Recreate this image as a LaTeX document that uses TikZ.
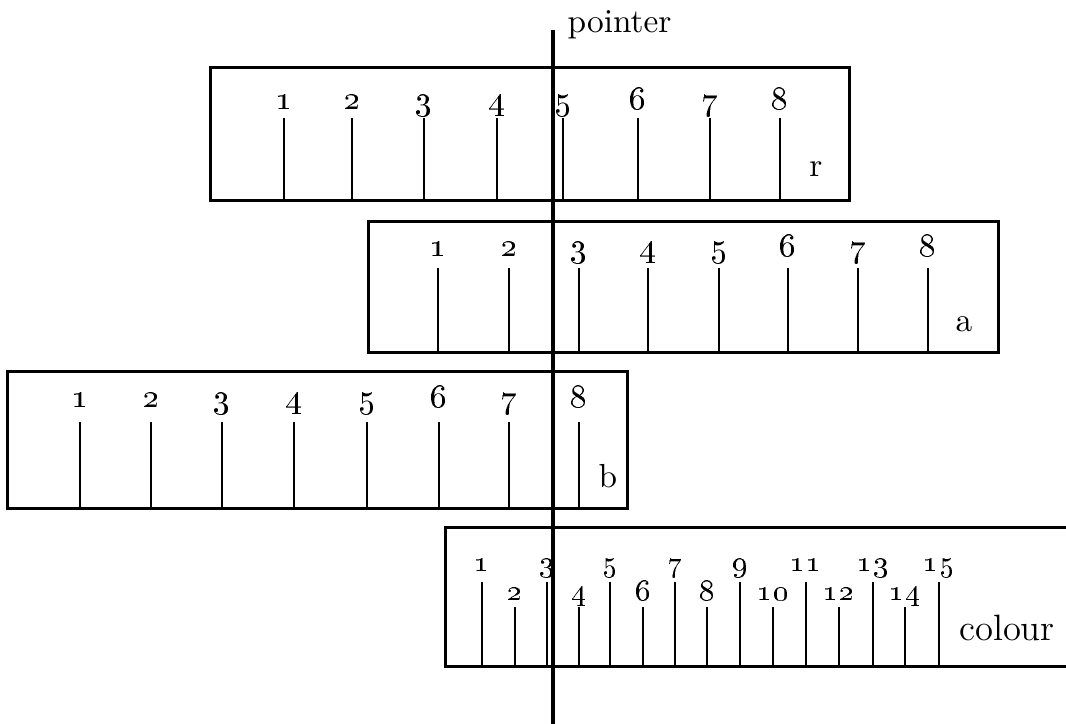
\documentclass[tikz,border=0pt]{standalone}
\usepackage{tikz}
\usetikzlibrary{positioning, calc}
\tikzset{%
  scale box/.style={draw, line width=0.9pt},
  tick/.style={line width=0.6pt},
  pointer line/.style={line width=1.1pt},
  num/.style={anchor=base, inner sep=0pt, font=\normalsize},
  small num/.style={num, font=\small},
  scale name/.style={anchor=base, inner sep=0pt}
}

\begin{document}
\begin{tikzpicture}[x=0.3pt, y=-0.3pt]
  \useasboundingbox (0,0) rectangle (1066,724);

  % scale r
  \coordinate (r nw) at (210,68);
  \coordinate (r se) at (849,201);
  \draw[scale box] (r nw) rectangle (r se);
  \foreach \n/\x in {1/284, 2/352, 3/424, 4/497, 5/563, 6/638, 7/710, 8/780} {
    \coordinate (r top \n) at (\x,118);
    \coordinate (r bot \n) at (\x,201);
    \draw[tick] (r top \n) -- (r bot \n);
    \node[num] (r num \n) at (\x,110) {\oldstylenums{\n}};
  }
  \node[scale name] (r name) at (816,177) {r};

  % scale a
  \coordinate (a nw) at (368,222);
  \coordinate (a se) at (998,353);
  \draw[scale box] (a nw) rectangle (a se);
  \foreach \n/\x in {1/438, 2/509, 3/579, 4/648, 5/719, 6/788, 7/858, 8/928} {
    \coordinate (a top \n) at (\x,268);
    \coordinate (a bot \n) at (\x,353);
    \draw[tick] (a top \n) -- (a bot \n);
    \node[num] (a num \n) at (\x,257) {\oldstylenums{\n}};
  }
  \node[scale name] (a name) at (964,332) {a};

  % scale b
  \coordinate (b nw) at (7,372);
  \coordinate (b se) at (627,508);
  \draw[scale box] (b nw) rectangle (b se);
  \foreach \n/\x in {1/80, 2/151, 3/222, 4/294, 5/367, 6/439, 7/509, 8/579} {
    \coordinate (b top \n) at (\x,422);
    \coordinate (b bot \n) at (\x,508);
    \draw[tick] (b top \n) -- (b bot \n);
    \node[num] (b num \n) at (\x,407) {\oldstylenums{\n}};
  }
  \node[scale name] (b name) at (608,487) {b};

  % colour scale, open at the right
  \coordinate (c ne) at (1075,527);
  \coordinate (c nw) at (445,527);
  \coordinate (c sw) at (445,666);
  \coordinate (c se) at (1075,666);
  \draw[scale box] (c ne) -- (c nw) -- (c sw) -- (c se);
  \foreach \n/\x in {1/482, 3/547, 5/610, 7/675, 9/740, 11/806, 13/873, 15/939} {
    \coordinate (c top \n) at (\x,582);
    \coordinate (c bot \n) at (\x,666);
    \draw[tick] (c top \n) -- (c bot \n);
    \node[small num] (c num \n) at (\x,571) {\oldstylenums{\n}};
  }
  \foreach \n/\x in {2/515, 4/579, 6/643, 8/707, 10/773, 12/839, 14/905} {
    \coordinate (c top \n) at (\x,607);
    \coordinate (c bot \n) at (\x,666);
    \draw[tick] (c top \n) -- (c bot \n);
    \node[small num] (c num \n) at (\x,600) {\oldstylenums{\n}};
  }
  \node[scale name, font=\fontsize{11}{13}\selectfont] (c name) at (1007,640) {colour};

  % pointer
  \coordinate (p top) at (553,30);
  \coordinate (p bot) at (553,724);
  \draw[pointer line] (p top) -- (p bot);
  \node[anchor=base west, inner sep=0pt] (p name) at (567,33) {pointer};
\end{tikzpicture}
\end{document}
